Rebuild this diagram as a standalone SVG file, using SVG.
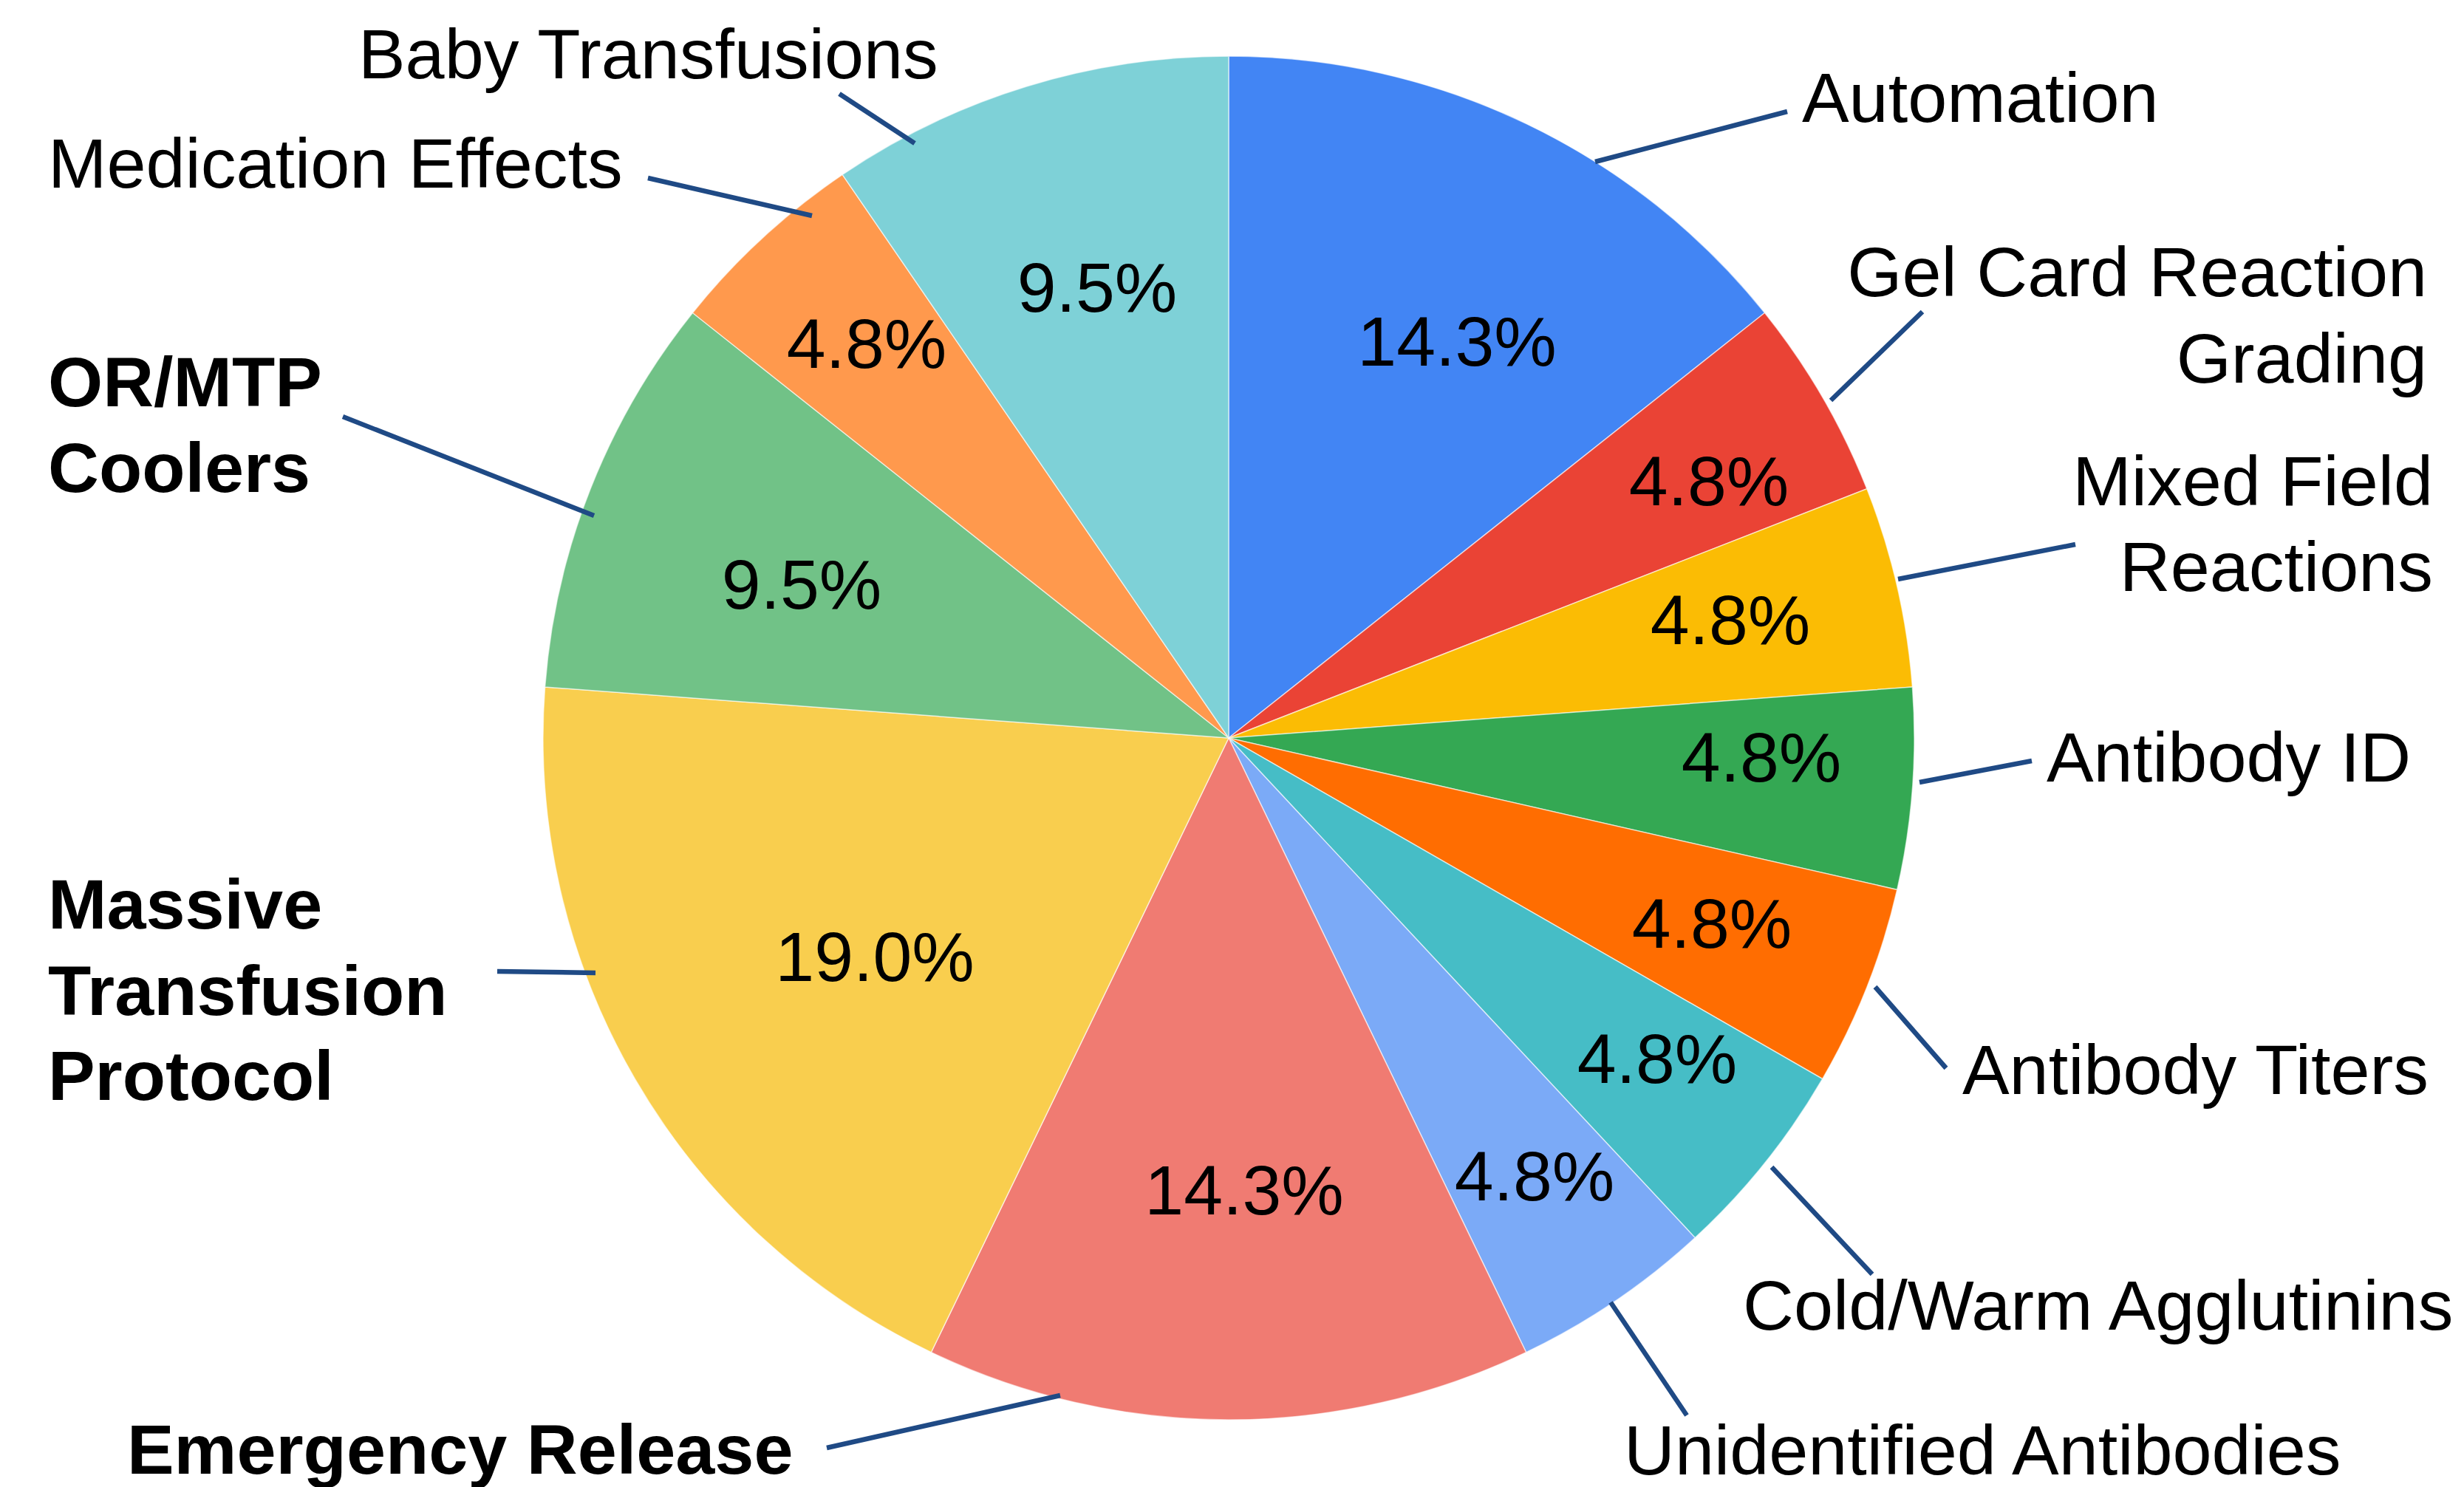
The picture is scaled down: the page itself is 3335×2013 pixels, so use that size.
<svg xmlns="http://www.w3.org/2000/svg" width="3335" height="2013" viewBox="0 0 3335 2013">
<style>
.slice{stroke:#ffffff;stroke-width:1.5;stroke-opacity:0.6}
.pct{font-family:"Liberation Sans",Arial,sans-serif;font-size:95px;fill:#000;text-anchor:middle}
.lbl{font-family:"Liberation Sans",Arial,sans-serif;font-size:95.4px;fill:#000}
.b{font-weight:bold}
.end{text-anchor:end}
.conn line{stroke:#1f4a85;stroke-width:6.5;stroke-linecap:butt}
</style>
<rect width="3335" height="2013" fill="#ffffff"/>
<g id="slices">
<g id="automation"><path class="slice" fill="#4285F4" d="M1663,999 L1663,76 A928,923 0 0 1 2388.5,423.5 Z"/><text class="pct" x="1972" y="495">14.3%</text></g>
<g id="gel-card"><path class="slice" fill="#EA4335" d="M1663,999 L2388.5,423.5 A928,923 0 0 1 2526.8,661.8 Z"/><text class="pct" x="2313" y="684">4.8%</text></g>
<g id="mixed-field"><path class="slice" fill="#FBBC04" d="M1663,999 L2526.8,661.8 A928,923 0 0 1 2588.4,930 Z"/><text class="pct" x="2342" y="872">4.8%</text></g>
<g id="antibody-id"><path class="slice" fill="#34A853" d="M1663,999 L2588.4,930 A928,923 0 0 1 2567.7,1204.4 Z"/><text class="pct" x="2384" y="1058">4.8%</text></g>
<g id="antibody-titers"><path class="slice" fill="#FF6D01" d="M1663,999 L2567.7,1204.4 A928,923 0 0 1 2466.7,1460.5 Z"/><text class="pct" x="2317" y="1283">4.8%</text></g>
<g id="cold-warm"><path class="slice" fill="#46BDC6" d="M1663,999 L2466.7,1460.5 A928,923 0 0 1 2294.2,1675.6 Z"/><text class="pct" x="2243" y="1466">4.8%</text></g>
<g id="unidentified"><path class="slice" fill="#7BAAF7" d="M1663,999 L2294.2,1675.6 A928,923 0 0 1 2065.6,1830.6 Z"/><text class="pct" x="2077" y="1625">4.8%</text></g>
<g id="emergency"><path class="slice" fill="#F07B72" d="M1663,999 L2065.6,1830.6 A928,923 0 0 1 1260.4,1830.6 Z"/><text class="pct" x="1684" y="1644">14.3%</text></g>
<g id="mtp"><path class="slice" fill="#F9CE4E" d="M1663,999 L1260.4,1830.6 A928,923 0 0 1 737.6,930 Z"/><text class="pct" x="1184" y="1328">19.0%</text></g>
<g id="coolers"><path class="slice" fill="#71C287" d="M1663,999 L737.6,930 A928,923 0 0 1 937.5,423.5 Z"/><text class="pct" x="1085" y="824">9.5%</text></g>
<g id="medication"><path class="slice" fill="#FF994D" d="M1663,999 L937.5,423.5 A928,923 0 0 1 1140.2,236.4 Z"/><text class="pct" x="1173" y="498">4.8%</text></g>
<g id="baby"><path class="slice" fill="#7ED1D7" d="M1663,999 L1140.2,236.4 A928,923 0 0 1 1663,76 Z"/><text class="pct" x="1485" y="422">9.5%</text></g>
</g>
<g id="connectors" class="conn">
<line x1="2159" y1="219" x2="2419" y2="151"/>
<line x1="2478" y1="542" x2="2602" y2="422"/>
<line x1="2569" y1="784" x2="2809" y2="737"/>
<line x1="2598" y1="1059" x2="2750" y2="1030"/>
<line x1="2538" y1="1336" x2="2634" y2="1446"/>
<line x1="2398" y1="1580" x2="2534" y2="1725"/>
<line x1="2180" y1="1763" x2="2283" y2="1916"/>
<line x1="1119" y1="1960" x2="1435" y2="1889"/>
<line x1="673" y1="1315" x2="806" y2="1317"/>
<line x1="464" y1="564" x2="804" y2="698"/>
<line x1="877" y1="241" x2="1099" y2="292"/>
<line x1="1136" y1="127" x2="1238" y2="194"/>
</g>
<g id="labels">
<g id="label-automation"><text class="lbl" x="2439" y="165">Automation</text></g>
<g id="label-gel"><text class="lbl end" x="3285" y="401">Gel Card Reaction</text><text class="lbl end" x="3285" y="518">Grading</text></g>
<g id="label-mixed"><text class="lbl end" x="3293" y="684">Mixed Field</text><text class="lbl end" x="3293" y="800">Reactions</text></g>
<g id="label-abid"><text class="lbl" x="2770" y="1058">Antibody ID</text></g>
<g id="label-titers"><text class="lbl" x="2656" y="1481">Antibody Titers</text></g>
<g id="label-cold"><text class="lbl" x="2359" y="1800">Cold/Warm Agglutinins</text></g>
<g id="label-unidentified"><text class="lbl" x="2198" y="1996">Unidentified Antibodies</text></g>
<g id="label-emergency"><text class="lbl b" x="172" y="1995">Emergency Release</text></g>
<g id="label-mtp"><text class="lbl b" x="65" y="1257">Massive</text><text class="lbl b" x="65" y="1374">Transfusion</text><text class="lbl b" x="65" y="1489">Protocol</text></g>
<g id="label-coolers"><text class="lbl b" x="65" y="550">OR/MTP</text><text class="lbl b" x="65" y="666">Coolers</text></g>
<g id="label-medication"><text class="lbl" x="65" y="254">Medication Effects</text></g>
<g id="label-baby"><text class="lbl" x="485" y="106">Baby Transfusions</text></g>
</g>
</svg>
